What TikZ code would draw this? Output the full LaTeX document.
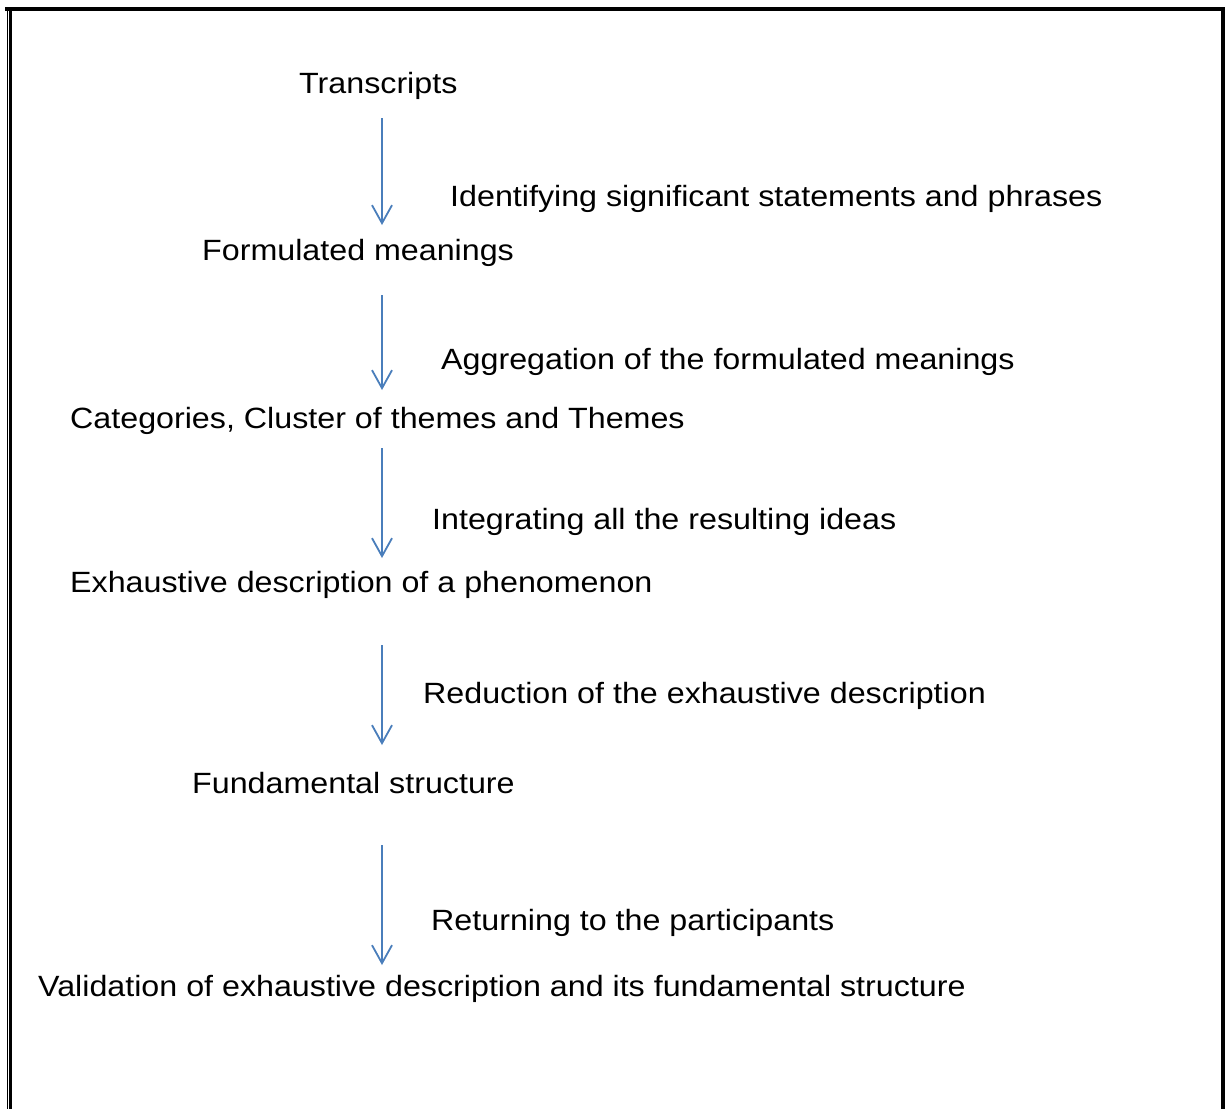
\documentclass[tikz,border=0pt]{standalone}
\usepackage{fontspec}
\setmainfont[FakeStretch=1.1]{Liberation Sans}
\usetikzlibrary{arrows.meta}
\definecolor{flowblue}{HTML}{4A7EBB}
\begin{document}
\begin{tikzpicture}[x=1pt,y=-1pt,
  lbl/.style={anchor=base west,inner sep=0pt,font=\fontsize{29.3}{35}\selectfont},
  flow/.style={draw=flowblue,line width=1.8pt,-{Straight Barb[length=18pt,width=20pt,line width=1.8pt]}},
  frame/.style={draw=black,line cap=rect}]
\useasboundingbox (0,0) rectangle (1225,1109);
% frame
\draw[frame,line width=4pt] (7,9) -- (1225,9);
\draw[frame,line width=1.3pt,line cap=butt] (7.3,7) -- (7.3,1109);
\draw[frame,line width=2.4pt,line cap=butt] (10.5,10) -- (10.5,1109);
\draw[frame,line width=3.6pt,line cap=butt] (1223.2,7) -- (1223.2,1109);
% texts
\node[lbl] (t1) at (299,93) {Transcripts};
\node[lbl] (l1) at (450,206.7) {Identifying significant statements and phrases};
\node[lbl] (t2) at (202,260) {Formulated meanings};
\node[lbl] (l2) at (441,369) {Aggregation of the formulated meanings};
\node[lbl] (t3) at (70,428) {Categories, Cluster of themes and Themes};
\node[lbl] (l3) at (432,529.3) {Integrating all the resulting ideas};
\node[lbl] (t4) at (70,592.7) {Exhaustive description of a phenomenon};
\node[lbl] (l4) at (423,703) {Reduction of the exhaustive description};
\node[lbl] (t5) at (192,793.3) {Fundamental structure};
\node[lbl] (l5) at (431,930.7) {Returning to the participants};
\node[lbl] (t6) at (38,996.7) {Validation of exhaustive description and its fundamental structure};
% arrow ends
\coordinate (a1s) at (382,118);
\coordinate (a1e) at (382,225);
\coordinate (a2s) at (382,295);
\coordinate (a2e) at (382,390);
\coordinate (a3s) at (382,448);
\coordinate (a3e) at (382,558);
\coordinate (a4s) at (382,645);
\coordinate (a4e) at (382,745);
\coordinate (a5s) at (382,845);
\coordinate (a5e) at (382,965);
\draw[flow] (a1s) -- (a1e);
\draw[flow] (a2s) -- (a2e);
\draw[flow] (a3s) -- (a3e);
\draw[flow] (a4s) -- (a4e);
\draw[flow] (a5s) -- (a5e);
\end{tikzpicture}
\end{document}
